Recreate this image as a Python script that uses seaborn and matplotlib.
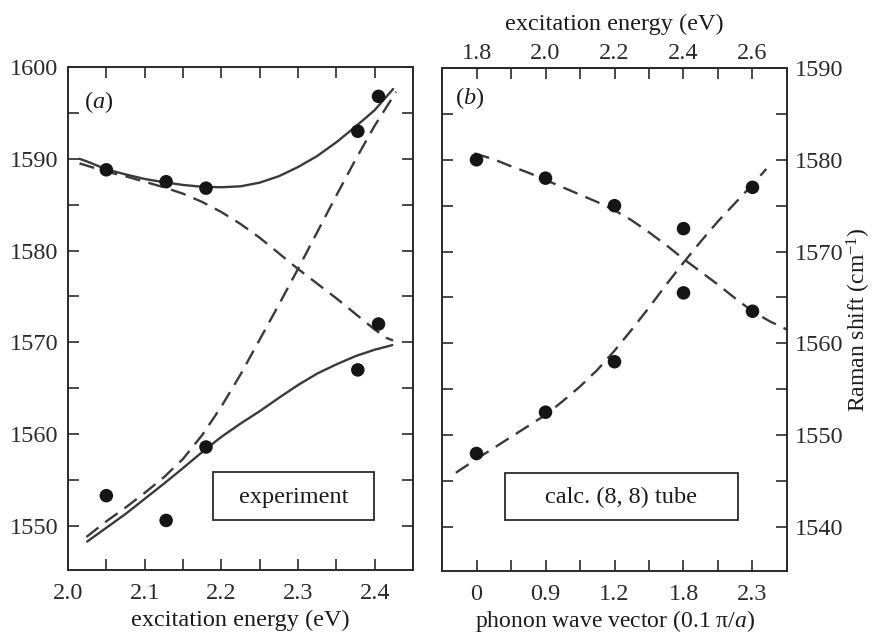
import matplotlib
matplotlib.use("Agg")
import matplotlib.pyplot as plt
from matplotlib.ticker import MultipleLocator, FixedLocator, FixedFormatter, FormatStrFormatter
from matplotlib.patches import Rectangle
import pandas as pd
import seaborn as sns

# ---------------- panel (a): experiment ----------------
exc_a = [2.05, 2.128, 2.18, 2.378, 2.405]
exp_upper = [1588.8, 1587.5, 1586.8, 1593.0, 1596.8]
exp_lower = [1553.3, 1550.6, 1558.6, 1567.0, 1572.0]

# coupled-mode fit (solid)
fit_up_x = [2.015, 2.025, 2.05, 2.075, 2.1, 2.125, 2.15, 2.175, 2.2, 2.225,
            2.25, 2.275, 2.3, 2.325, 2.35, 2.375, 2.4, 2.424]
fit_up_y = [1590.0, 1589.7, 1588.85, 1588.3, 1587.8, 1587.45, 1587.15, 1586.95, 1586.9, 1587.0,
            1587.4, 1588.1, 1589.1, 1590.3, 1591.8, 1593.5, 1595.3, 1597.6]
fit_lo_x = [2.025, 2.05, 2.075, 2.1, 2.125, 2.15, 2.175, 2.2, 2.225,
            2.25, 2.275, 2.3, 2.325, 2.35, 2.375, 2.4, 2.423]
fit_lo_y = [1548.3, 1549.8, 1551.3, 1552.95, 1554.6, 1556.3, 1558.05, 1559.7, 1561.15,
            1562.5, 1563.95, 1565.35, 1566.6, 1567.6, 1568.5, 1569.2, 1569.7]

# uncoupled modes (dashed)
unc_dn_x = [2.015, 2.05, 2.075, 2.1, 2.125, 2.15, 2.175, 2.2, 2.225, 2.25,
            2.275, 2.3, 2.325, 2.35, 2.375, 2.4, 2.415, 2.424]
unc_dn_y = [1589.5, 1588.6, 1588.1, 1587.5, 1586.9, 1586.2, 1585.3, 1584.2, 1582.9, 1581.4,
            1579.7, 1578.0, 1576.4, 1574.8, 1573.1, 1571.4, 1570.5, 1570.2]
unc_up_x = [2.024, 2.05, 2.075, 2.1, 2.125, 2.15, 2.175, 2.2, 2.225, 2.25,
            2.275, 2.3, 2.325, 2.35, 2.375, 2.4, 2.428]
unc_up_y = [1548.8, 1550.5, 1552.0, 1553.6, 1555.3, 1557.3, 1559.9, 1563.0, 1566.5, 1570.3,
            1574.1, 1578.0, 1582.0, 1586.0, 1589.9, 1593.6, 1597.3]

# ---------------- panel (b): calc. (8, 8) tube ----------------
exc_b = [1.8, 2.0, 2.2, 2.4, 2.6]
exc_b_labels = ["1.8", "2.0", "2.2", "2.4", "2.6"]
q_labels = ["0", "0.9", "1.2", "1.8", "2.3"]
calc_dn = [1580.0, 1578.0, 1575.0, 1572.5, 1563.5]
calc_up = [1548.0, 1552.5, 1558.0, 1565.5, 1577.0]

disp_dn_x = [1.794, 1.85, 1.9, 1.95, 2.0, 2.05, 2.1, 2.15, 2.2, 2.25,
             2.3, 2.35, 2.4, 2.45, 2.5, 2.55, 2.6, 2.65, 2.7]
disp_dn_y = [1580.7, 1580.05, 1579.3, 1578.6, 1577.8, 1577.0, 1576.2, 1575.4, 1574.5, 1573.4,
             1572.1, 1570.7, 1569.2, 1567.8, 1566.4, 1564.9, 1563.5, 1562.4, 1561.5]
disp_up_x = [1.74, 1.8, 1.85, 1.9, 1.95, 2.0, 2.05, 2.1, 2.15, 2.2,
             2.25, 2.3, 2.35, 2.4, 2.45, 2.5, 2.55, 2.6, 2.64]
disp_up_y = [1545.9, 1547.4, 1548.6, 1549.8, 1551.0, 1552.2, 1553.7, 1555.3, 1557.1, 1559.2,
             1561.5, 1563.9, 1566.4, 1568.8, 1571.1, 1573.3, 1575.3, 1577.3, 1579.0]

sns.set_theme(style="ticks")
plt.rcParams.update({
    "font.family": ["Liberation Serif", "DejaVu Serif"],
    "mathtext.fontset": "custom",
    "mathtext.rm": "Liberation Serif",
    "mathtext.it": "Liberation Serif:italic",
    "font.size": 17.5,
    "axes.linewidth": 1.4,
    "axes.edgecolor": "#2a2a2a",
    "xtick.direction": "in",
    "ytick.direction": "in",
    "xtick.major.size": 8,
    "ytick.major.size": 8,
    "xtick.minor.size": 8,
    "ytick.minor.size": 8,
    "xtick.major.width": 1.2,
    "ytick.major.width": 1.2,
    "xtick.minor.width": 1.2,
    "ytick.minor.width": 1.2,
    "xtick.color": "#2a2a2a",
    "ytick.color": "#2a2a2a",
    "xtick.labelsize": 17.5,
    "ytick.labelsize": 17.5,
    "axes.labelsize": 17.5,
    "text.color": "#1a1a1a",
    "axes.labelcolor": "#1a1a1a",
})

LINE = "#3a3a3a"
DOT = "#151515"
DASH = (0, (6.5, 3.6))
LW = 1.7
MS = 95

fig = plt.figure(figsize=(8.73, 6.34), dpi=100)
W, H = 873, 634
ax_a = fig.add_axes([68 / W, 1 - 570 / H, 345 / W, 503 / H])
ax_b = fig.add_axes([442 / W, 1 - 571 / H, 345 / W, 503 / H])


def curve(ax, xs, ys, ls):
    df = pd.DataFrame({"x": xs, "y": ys})
    sns.lineplot(data=df, x="x", y="y", ax=ax, color=LINE, lw=LW,
                 linestyle=ls, sort=False, estimator=None, legend=False)


def dots(ax, xs, ys):
    df = pd.DataFrame({"x": xs, "y": ys})
    sns.scatterplot(data=df, x="x", y="y", ax=ax, color=DOT, s=MS,
                    edgecolor="none", legend=False, zorder=5)


# ----- panel (a)
curve(ax_a, fit_up_x, fit_up_y, "-")
curve(ax_a, fit_lo_x, fit_lo_y, "-")
curve(ax_a, unc_dn_x, unc_dn_y, DASH)
curve(ax_a, unc_up_x, unc_up_y, DASH)
dots(ax_a, exc_a, exp_upper)
dots(ax_a, exc_a, exp_lower)

ax_a.set_xlim(2.0, 2.45)
ax_a.set_ylim(1545.2, 1600)
ax_a.xaxis.set_major_locator(MultipleLocator(0.1))
ax_a.xaxis.set_minor_locator(MultipleLocator(0.05))
ax_a.yaxis.set_major_locator(MultipleLocator(10))
ax_a.yaxis.set_minor_locator(MultipleLocator(5))
ax_a.xaxis.set_major_formatter(FormatStrFormatter("%.1f"))
ax_a.tick_params(which="both", top=True, right=True)
ax_a.tick_params(axis="x", which="major", pad=9.5)
ax_a.tick_params(axis="y", which="major", pad=7)
ax_a.set_xlabel("excitation energy (eV)", labelpad=4)
ax_a.set_ylabel("")
ax_a.text(0.09, 0.93, "($a$)", transform=ax_a.transAxes, ha="center", va="center")
box_a = Rectangle(((213 - 68) / 345, (570 - 520) / 503), (374 - 213) / 345, (520 - 472) / 503,
                  transform=ax_a.transAxes, fill=False, ec="#2a2a2a", lw=1.3, zorder=6)
ax_a.add_patch(box_a)
ax_a.text(((213 + 374) / 2 - 68) / 345, (570 - 497) / 503, "experiment",
          transform=ax_a.transAxes, ha="center", va="center", zorder=7)

# ----- panel (b)
curve(ax_b, disp_dn_x, disp_dn_y, DASH)
curve(ax_b, disp_up_x, disp_up_y, DASH)
dots(ax_b, exc_b, calc_dn)
dots(ax_b, exc_b, calc_up)

ax_b.set_xlim(1.7, 2.7)
ax_b.set_ylim(1535.2, 1590)
ax_b.xaxis.set_major_locator(FixedLocator(exc_b))
ax_b.xaxis.set_major_formatter(FixedFormatter(q_labels))
ax_b.xaxis.set_minor_locator(MultipleLocator(0.1))
ax_b.yaxis.set_major_locator(MultipleLocator(10))
ax_b.yaxis.set_minor_locator(MultipleLocator(5))
ax_b.tick_params(which="both", top=False, bottom=True, left=True, right=True,
                 labelleft=False, labelright=True)
ax_b.tick_params(axis="x", which="major", pad=9.5)
ax_b.tick_params(axis="y", which="major", pad=6)
ax_b.yaxis.set_label_position("right")
ax_b.set_ylabel("Raman shift (cm$^{-1}$)", labelpad=1, fontsize=17)
ax_b.set_xlabel("phonon wave vector (0.1 π/$a$)", labelpad=2, fontsize=17)

# excitation-energy scale along the top of panel (b)
top = ax_b.secondary_xaxis("top", functions=(lambda v: v, lambda v: v))
top.xaxis.set_major_locator(FixedLocator(exc_b))
top.xaxis.set_major_formatter(FixedFormatter(exc_b_labels))
top.xaxis.set_minor_locator(MultipleLocator(0.1))
top.tick_params(which="both", direction="in", length=8, width=1.2, pad=3)
top.spines["top"].set_linewidth(1.4)
top.set_xlabel("excitation energy (eV)", labelpad=9)

ax_b.text(0.08, 0.94, "($b$)", transform=ax_b.transAxes, ha="center", va="center")
box_b = Rectangle(((505 - 442) / 345, (571 - 520) / 503), (738 - 505) / 345, (520 - 473) / 503,
                  transform=ax_b.transAxes, fill=False, ec="#2a2a2a", lw=1.3, zorder=6)
ax_b.add_patch(box_b)
ax_b.text(((505 + 738) / 2 - 442) / 345, (571 - 497) / 503, "calc. (8, 8) tube",
          transform=ax_b.transAxes, ha="center", va="center", zorder=7)

fig.savefig("out.png", dpi=100)
